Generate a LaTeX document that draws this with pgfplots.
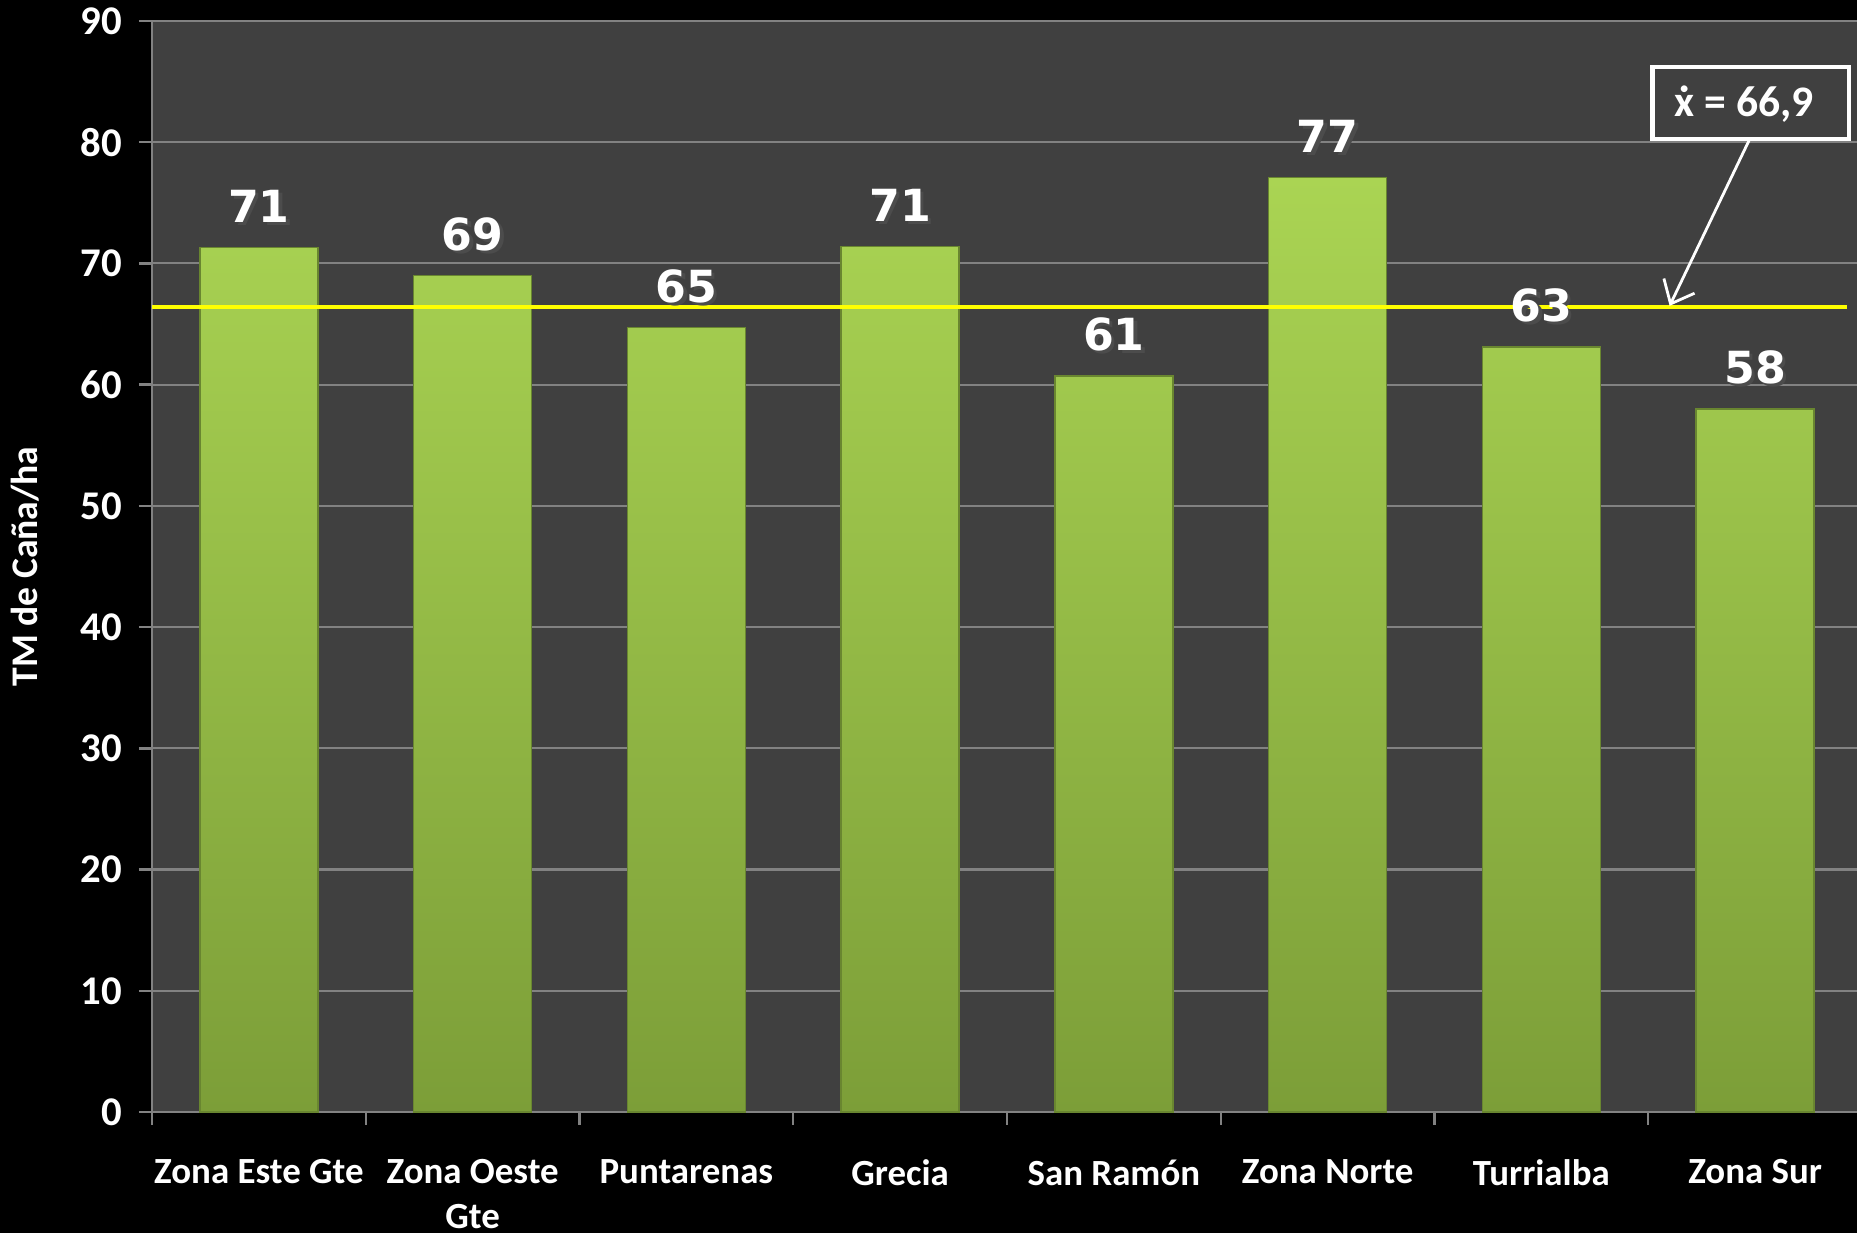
\documentclass[border=0pt]{standalone}
\usepackage{pgfplots}
\pgfplotsset{compat=1.18}
\usetikzlibrary{arrows.meta}
\usepackage{fontspec}
\setmainfont{Carlito}
\newfontfamily\lblfont{DejaVu Sans}
\definecolor{plotbg}{HTML}{404040}
\definecolor{gridc}{HTML}{828282}
\definecolor{bartop}{HTML}{AAD453}
\definecolor{barbot}{HTML}{7C9E38}
\definecolor{meanc}{HTML}{FFFF00}
\newcommand{\xdot}{\ooalign{x\cr\hidewidth\char"02D9\hidewidth\cr}}
\begin{document}
\begin{tikzpicture}
\fill[black] (0,0) rectangle (185.7mm,123.3mm);
\begin{axis}[
  at={(15.2mm,12.1mm)}, anchor=south west,
  width=171mm, height=109.1mm, scale only axis,
  xmin=-0.5, xmax=7.5, ymin=0, ymax=90,
  /pgf/number format/assume math mode=true,
  axis background/.style={fill=plotbg},
  axis lines*=left,
  axis line style={gridc, line width=0.7pt},
  ytick={0,10,...,90},
  ymajorgrids, grid style={gridc, line width=0.6pt},
  tick style={gridc, line width=0.7pt},
  tick align=outside, major tick length=1.3mm,
  xtick={-0.5,0.5,...,7.5},
  x tick label as interval,
  xticklabels={Zona Este Gte, {Zona Oeste\\Gte}, Puntarenas, Grecia, San Ramón, Zona Norte, Turrialba, Zona Sur},
  xticklabel style={font=\fontsize{10.5}{12.6}\selectfont\bfseries, align=center, text=white, anchor=north, inner sep=0pt, yshift=-3.4mm},
  yticklabel style={font=\fontsize{11.6}{13}\selectfont\bfseries, text=white, anchor=east, inner sep=0pt, xshift=-1.6mm},
  ylabel={TM de Caña/ha},
  every axis y label/.style={at={(axis description cs:-0.0739,0.5)}, rotate=90, anchor=center, font=\fontsize{10.7}{12}\selectfont\bfseries, text=white},
  clip=false,
]
% label shadows
\addplot[ybar, bar width=11.8mm, bar shift=0pt, draw=none, fill=none,
  nodes near coords={\pgfmathprintnumber[fixed,precision=0,assume math mode=true]{\pgfplotspointmeta}},
  every node near coord/.style={font=\lblfont\bfseries\fontsize{12.6}{14}\selectfont, text=black!70, anchor=south, inner sep=0pt, yshift=2.1mm, xshift=0.35mm}]
  coordinates {(0,71.3) (1,69.0) (2,64.7) (3,71.4) (4,60.7) (5,77.1) (6,63.1) (7,58.0)};
\addplot[ybar, bar width=11.8mm, bar shift=0pt, draw=barbot!85!black, line width=0.4pt, top color=bartop, bottom color=barbot,
  nodes near coords={\pgfmathprintnumber[fixed,precision=0,assume math mode=true]{\pgfplotspointmeta}},
  every node near coord/.style={font=\lblfont\bfseries\fontsize{12.6}{14}\selectfont, text=white, anchor=south, inner sep=0pt, yshift=2.4mm}]
  coordinates {(0,71.3) (1,69.0) (2,64.7) (3,71.4) (4,60.7) (5,77.1) (6,63.1) (7,58.0)};
% mean line
\addplot[meanc, line width=0.4mm, sharp plot, mark=none] coordinates {(-0.5,66.4) (7.43,66.4)};
\draw[white, line width=0.28mm, -{Straight Barb[length=2mm, width=3.4mm]}] (axis cs:6.975,80.27) -- (axis cs:6.6,66.5);
\draw[white, line width=0.45mm] (axis cs:6.52,80.27) rectangle (axis cs:7.44,86.2);
\node[text=white, font=\fontsize{12.4}{14}\selectfont\bfseries] at (axis cs:6.95,83.1) {\xdot{} = 66,9};
\end{axis}
\pgfresetboundingbox
\useasboundingbox (0,0) rectangle (185.7mm,123.3mm);
\end{tikzpicture}
\end{document}
